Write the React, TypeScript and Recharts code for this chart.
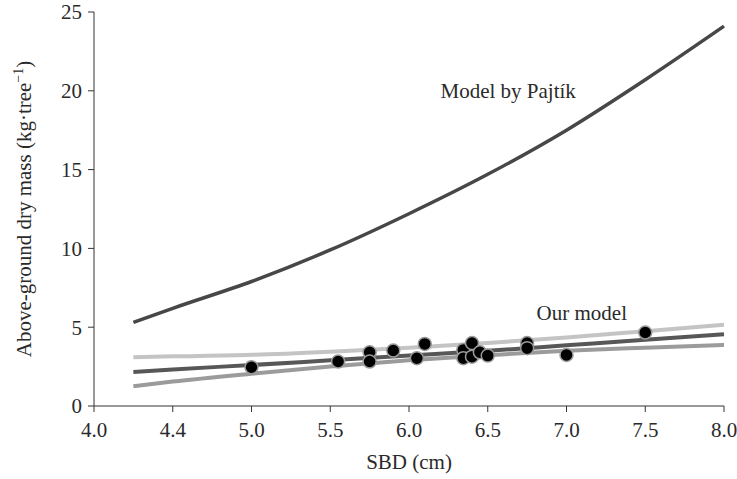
import { ComposedChart, Line, Scatter, XAxis, YAxis, ReferenceDot } from "recharts";

// x positions shared by the fitted curves
const curveX = [4.25, 4.5, 5, 5.5, 6, 6.5, 7, 7.5, 8];
const pajtik = [5.3, 6.2, 7.9, 9.9, 12.2, 14.7, 17.5, 20.7, 24.1];
const ourUpper = [3.1, 3.15, 3.25, 3.45, 3.7, 4.0, 4.35, 4.75, 5.15];
const ourMid = [2.16, 2.32, 2.6, 2.9, 3.2, 3.5, 3.85, 4.2, 4.56];
const ourLower = [1.25, 1.55, 2.05, 2.5, 2.9, 3.22, 3.5, 3.7, 3.88];

// measured trees
const obsX = [5.0, 5.55, 5.75, 5.75, 5.9, 6.05, 6.1, 6.345, 6.345, 6.4, 6.4, 6.45, 6.5, 6.75, 6.75, 7.0, 7.5];
const obsY = [2.46, 2.82, 3.41, 2.82, 3.52, 3.03, 3.94, 3.56, 3.03, 3.99, 3.13, 3.41, 3.2, 3.99, 3.67, 3.24, 4.66];

const xTicks = [4, 4.5, 5, 5.5, 6, 6.5, 7, 7.5, 8];
const xTickLabels = ["4.0", "4.4", "5.0", "5.5", "6.0", "6.5", "7.0", "7.5", "8.0"];
const yTicks = [0, 5, 10, 15, 20, 25];

const toSeries = (ys: number[]) => curveX.map((x, i) => ({ x, y: ys[i] }));
const points = obsX.map((x, i) => ({ x, y: obsY[i] }));

const FONT = "'Liberation Serif', 'Times New Roman', serif";
const TEXT = "#2a2a2a";

const YTitle = (props: any) => {
  const vb = props.viewBox || props;
  const cx = vb.x + 31;
  const cy = vb.y + vb.height / 2;
  return (
    <text
      x={cx}
      y={cy}
      transform={`rotate(-90, ${cx}, ${cy})`}
      textAnchor="middle"
      fill={TEXT}
      fontSize={21}
      fontFamily={FONT}
    >
      Above-ground dry mass (kg·tree
      <tspan dy={-8} fontSize={14}>−1</tspan>
      <tspan dy={8}>)</tspan>
    </text>
  );
};

const Dot = (p: any) => (
  <circle cx={p.cx} cy={p.cy} r={6.5} fill="#000" stroke="#9a9a9a" strokeWidth={1.5} />
);

export default function App() {
  return (
    <div style={{ position: "absolute", left: 0, top: 0, width: 737, height: 479, background: "#fff" }}>
      <ComposedChart width={737} height={479} margin={{ top: 12, right: 13, bottom: 0, left: 0 }}>
        <XAxis
          dataKey="x"
          type="number"
          domain={[4, 8]}
          ticks={xTicks}
          interval={0}
          tickFormatter={(v: number) => xTickLabels[xTicks.indexOf(v)]}
          height={73}
          tickSize={6}
          tickMargin={10}
          stroke="#333"
          tick={{ fill: TEXT, fontSize: 21, fontFamily: FONT }}
          label={{ value: "SBD (cm)", position: "insideBottom", offset: 10, fill: TEXT, fontSize: 21, fontFamily: FONT }}
        />
        <YAxis
          type="number"
          domain={[0, 25]}
          ticks={yTicks}
          interval={0}
          width={94}
          tickSize={6}
          tickMargin={6}
          stroke="#333"
          tick={{ fill: TEXT, fontSize: 21, fontFamily: FONT }}
          label={YTitle}
        />
        <Line data={toSeries(ourUpper)} dataKey="y" type="monotone" stroke="#c4c4c4" strokeWidth={4} dot={false} isAnimationActive={false} />
        <Line data={toSeries(ourLower)} dataKey="y" type="monotone" stroke="#9b9b9b" strokeWidth={4} dot={false} isAnimationActive={false} />
        <Line data={toSeries(ourMid)} dataKey="y" type="monotone" stroke="#575757" strokeWidth={4} dot={false} isAnimationActive={false} />
        <Line data={toSeries(pajtik)} dataKey="y" type="monotone" stroke="#474747" strokeWidth={3.5} dot={false} isAnimationActive={false} />
        <Scatter data={points} dataKey="y" shape={Dot} isAnimationActive={false} />
        <ReferenceDot
          x={6.2}
          y={20}
          r={0}
          stroke="none"
          label={{ value: "Model by Pajtík", position: "right", offset: 0, fill: TEXT, fontSize: 21, fontFamily: FONT }}
        />
        <ReferenceDot
          x={6.81}
          y={5.9}
          r={0}
          stroke="none"
          label={{ value: "Our model", position: "right", offset: 0, fill: TEXT, fontSize: 21, fontFamily: FONT }}
        />
      </ComposedChart>
    </div>
  );
}
